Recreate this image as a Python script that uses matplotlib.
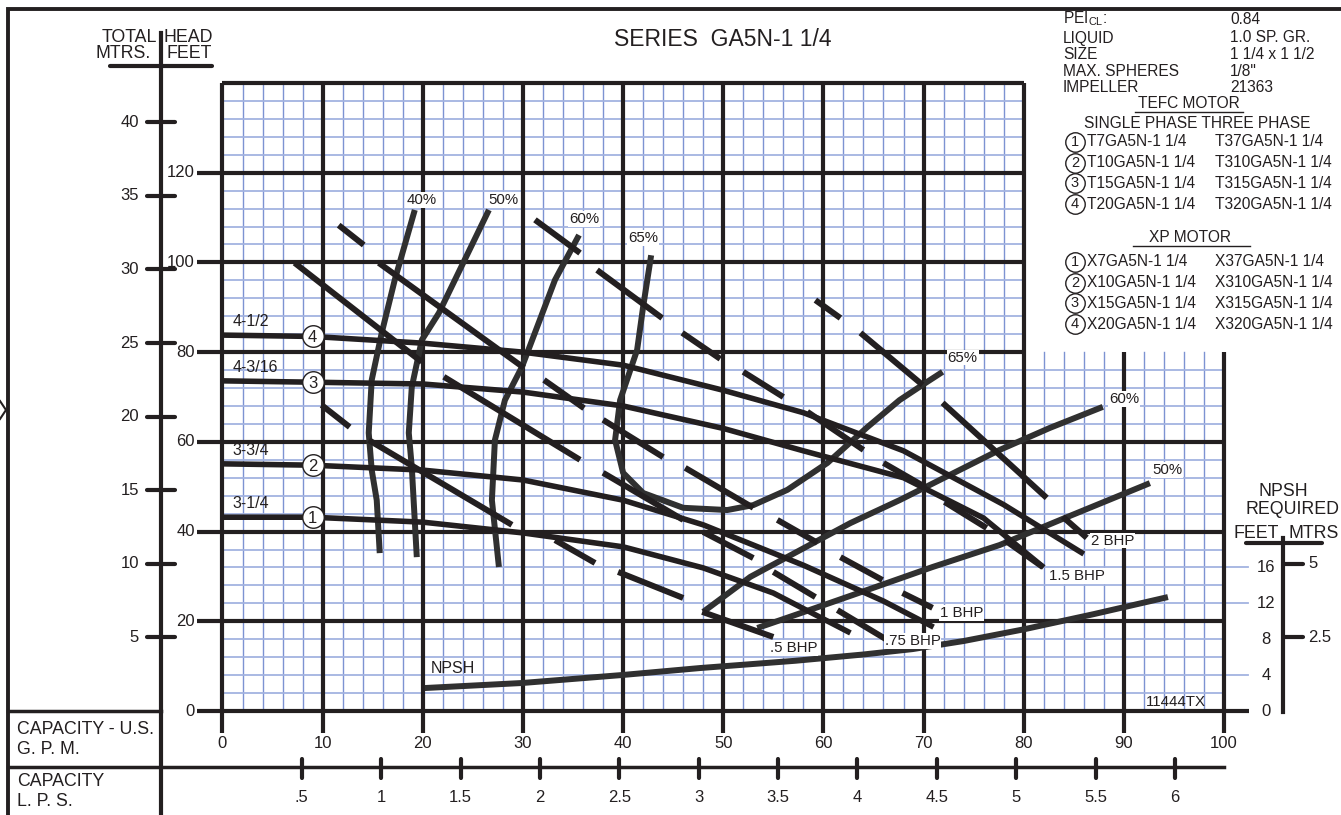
import matplotlib.pyplot as plt
import numpy as np

plt.rcParams['font.family'] = ['Liberation Sans', 'DejaVu Sans']

# ---------------- data (flow in US GPM, head in feet) ----------------
gpm_ticks = [0, 10, 20, 30, 40, 50, 60, 70, 80, 90, 100]
lps_ticks = [0.5, 1, 1.5, 2, 2.5, 3, 3.5, 4, 4.5, 5, 5.5, 6]
lps_labels = ['.5', '1', '1.5', '2', '2.5', '3', '3.5', '4', '4.5', '5', '5.5', '6']
feet_ticks = [0, 20, 40, 60, 80, 100, 120]
mtr_ticks = [5, 10, 15, 20, 25, 30, 35, 40]
npsh_ticks = [0, 4, 8, 12, 16]
npsh_mtr_ticks = [2.5, 5]
npsh_mtr_labels = ['2.5', '5']

# impeller head curves
imp_names = ['3-1/4', '3-3/4', '4-3/16', '4-1/2']
imp1_q = [0, 9, 20, 30, 40, 48, 55, 62.7]
imp1_h = [43.2, 43.2, 42.1, 39.7, 36.6, 31.9, 26.3, 17.4]
imp2_q = [0, 9, 20, 30, 40, 48, 58, 66, 71]
imp2_h = [55.1, 54.8, 53.7, 51.5, 47.0, 41.5, 32.5, 24.5, 18.7]
imp3_q = [0, 9, 20, 30, 40, 50, 58, 68, 76, 82]
imp3_h = [73.6, 73.3, 72.9, 71.1, 68.0, 63.0, 58.0, 52.0, 43.0, 32.0]
imp4_q = [0, 9, 20, 30, 40, 50, 58, 68, 78, 86]
imp4_h = [83.8, 83.5, 82.0, 80.0, 77.1, 71.5, 66.5, 58.0, 46.0, 35.0]

# efficiency curves
eff40_q = [19.2, 17.2, 15.9, 14.9, 14.6, 14.9, 15.4, 15.7]
eff40_h = [111.7, 96.1, 84.3, 73.8, 62.0, 53.7, 47.0, 35.2]
eff50_q = [26.6, 21.6, 19.9, 18.9, 18.6, 18.9, 19.4]
eff50_h = [111.7, 88.7, 82.7, 72.2, 62.0, 54.4, 34.3]
eff60_q = [35.6, 33.2, 29.9, 28.2, 27.2, 26.9, 27.6]
eff60_h = [106.1, 96.1, 76.7, 69.3, 60.4, 47.0, 32.1]
eff65_q = [42.8, 42.0, 41.4, 39.7, 39.2, 40.0, 42.0, 46.0, 50.4, 53.0, 56.4, 60.4, 64.4, 67.6, 69.9, 71.9]
eff65_h = [101.6, 90.1, 80.5, 69.3, 60.4, 53.1, 48.6, 45.3, 44.8, 45.9, 49.3, 55.3, 63.3, 69.3, 72.7, 75.6]
eff60b_q = [48.0, 52.7, 57.7, 62.7, 67.6, 72.6, 77.6, 82.6, 87.9]
eff60b_h = [22.1, 29.9, 35.9, 41.9, 47.0, 52.6, 58.2, 63.1, 67.8]
eff50b_q = [53.4, 57.7, 64.4, 70.9, 77.6, 84.3, 92.6]
eff50b_h = [18.5, 21.8, 27.0, 32.1, 37.0, 43.2, 50.8]

# brake horsepower lines, as the printed dashes (q0, h0, q1, h1)
bhp2_dashes = [(59.2, 91.6, 61.7, 87.6), (63.7, 84.3, 69.9, 72.7),
               (71.9, 68.7, 82.3, 47.5), (83.9, 43.3, 86.3, 38.6)]
bhp15_dashes = [(31.2, 109.5, 35.7, 102.1), (37.4, 98.3, 43.9, 87.6),
                (45.9, 84.3, 49.7, 78.5), (52.0, 75.6, 56.0, 70.0),
                (58.4, 66.7, 64.0, 58.2), (66.0, 55.3, 70.2, 49.9),
                (72.1, 46.6, 76.3, 40.8), (78.1, 38.1, 81.9, 32.1)]
bhp1_dashes = [(11.6, 108.3, 14.1, 103.9), (15.6, 99.9, 30.1, 76.5),
               (32.1, 73.8, 36.1, 67.5), (38.0, 64.9, 44.0, 56.6),
               (46.2, 54.2, 53.0, 45.3), (55.4, 42.6, 59.4, 37.5),
               (61.7, 34.3, 65.9, 29.2), (67.9, 26.3, 70.9, 23.0)]
bhp075_dashes = [(7.2, 99.9, 19.9, 77.8), (22.1, 74.5, 35.7, 56.0),
                 (38.0, 53.1, 46.0, 42.6), (48.0, 39.9, 53.0, 34.1),
                 (55.0, 31.0, 59.2, 25.4), (61.4, 22.5, 66.4, 15.8)]
bhp05_dashes = [(9.9, 68.2, 12.7, 63.3), (14.6, 60.4, 28.9, 41.5),
                (33.2, 38.1, 37.2, 33.0), (39.5, 31.0, 46.0, 25.2),
                (47.9, 22.1, 55.0, 16.5)]

# NPSH required (feet of NPSH, right-hand scale)
npsh_q = [20.2, 29.9, 39.9, 47.7, 57.2, 64.0, 68.9, 74.0, 80.0, 87.0, 94.4]
npsh_ft = [2.56, 3.12, 4.01, 4.79, 5.6, 6.3, 6.9, 7.8, 9.1, 10.8, 12.7]

spec_names = ['LIQUID', 'SIZE', 'MAX. SPHERES', 'IMPELLER']
spec_values = ['1.0 SP. GR.', '1 1/4 x 1 1/2', '1/8"', '21363']
tefc_single = ['T7GA5N-1 1/4', 'T10GA5N-1 1/4', 'T15GA5N-1 1/4', 'T20GA5N-1 1/4']
tefc_three = ['T37GA5N-1 1/4', 'T310GA5N-1 1/4', 'T315GA5N-1 1/4', 'T320GA5N-1 1/4']
xp_single = ['X7GA5N-1 1/4', 'X10GA5N-1 1/4', 'X15GA5N-1 1/4', 'X20GA5N-1 1/4']
xp_three = ['X37GA5N-1 1/4', 'X310GA5N-1 1/4', 'X315GA5N-1 1/4', 'X320GA5N-1 1/4']

FT_PER_M = 3.2808
GPM_PER_LPS = 15.850
NPSH_TO_HEAD = 2.0   # npsh scale is drawn at twice the head scale

K = '#231f20'
EFF = '#303030'
BLUE_V = '#7d93d2'
BLUE_H = '#a3b3e0'
FS_TICK = 12
FS_CAP = 12.8
FS_LEG = 11.2
FS_LAB = 10.8

fig = plt.figure(figsize=(13.41, 8.15), dpi=100)

# overlay in pixel units for the frame and the text blocks
ov = fig.add_axes([0, 0, 1, 1])
ov.set_xlim(0, 1341)
ov.set_ylim(815, 0)
ov.axis('off')

ax = fig.add_axes([222.5 / 1341, 104 / 815, 1001.5 / 1341, 628 / 815])
ax.set_xlim(0, 100)
ax.set_ylim(0, 140)
ax.axis('off')

# ---------------- grid ----------------
for q in np.arange(2, 100, 2):
    if q % 10 == 0:
        continue
    top = 140 if q < 80 else 80
    ax.plot([q, q], [0, top], color=BLUE_V, lw=1.0, zorder=1)
for h in np.arange(4, 140, 4):
    if h % 20 == 0:
        continue
    right = 100 if h < 80 else 80
    if h in (8, 24, 32):
        right = 102.4
    ax.plot([0, right], [h, h], color=BLUE_H, lw=1.3, zorder=1, clip_on=False)

for q in gpm_ticks:
    top = 140 if q <= 80 else 80
    ax.plot([q, q], [-4.9, top], color=K, lw=3.0, zorder=2, clip_on=False,
            solid_capstyle='butt')
    ax.text(q, -7.2, str(q), ha='center', va='center', fontsize=FS_TICK, color=K)
for h in feet_ticks + [140]:
    left = -2.55 if h < 140 else 0
    right = 100 if h < 80 else 80
    if h == 0:
        right = 102.5
    ax.plot([left, right], [h, h], color=K, lw=3.0, zorder=2, clip_on=False,
            solid_capstyle='butt')
for h in feet_ticks:
    ax.text(-2.75, h, str(h), ha='right', va='center', fontsize=FS_TICK, color=K)

# meters scale on the left
for m in mtr_ticks:
    ax.plot([-7.5, -4.75], [m * FT_PER_M] * 2, color=K, lw=3.0, clip_on=False,
            solid_capstyle='round')
    ax.text(-8.35, m * FT_PER_M, str(m), ha='right', va='center', fontsize=FS_TICK, color=K)

# L.P.S. scale
for v, lab in zip(lps_ticks, lps_labels):
    ax.plot([v * GPM_PER_LPS] * 2, [-10.6, -14.9], color=K, lw=3.0, clip_on=False,
            solid_capstyle='round')
    ax.text(v * GPM_PER_LPS, -19.3, lab, ha='center', va='center', fontsize=FS_TICK, color=K)

# NPSH scale on the right
ax.plot([105.9, 105.9], [-0.2, 38.5], color=K, lw=3.0, clip_on=False)
for v in npsh_ticks:
    ax.text(104.2, v * NPSH_TO_HEAD, str(v), ha='center', va='center', fontsize=FS_TICK, color=K)
for v, lab in zip(npsh_mtr_ticks, npsh_mtr_labels):
    y = v * FT_PER_M * NPSH_TO_HEAD
    ax.plot([105.9, 107.9], [y, y], color=K, lw=3.0, clip_on=False, solid_capstyle='round')
    ax.text(108.4, y, lab, ha='left', va='center', fontsize=FS_TICK, color=K)

# ---------------- curves ----------------
eff_curves = [(eff40_q, eff40_h), (eff50_q, eff50_h), (eff60_q, eff60_h),
              (eff65_q, eff65_h), (eff60b_q, eff60b_h), (eff50b_q, eff50b_h)]
for q, h in eff_curves:
    ax.plot(q, h, color=EFF, lw=4.3, zorder=4, solid_capstyle='butt',
            solid_joinstyle='round')

for dashes in (bhp2_dashes, bhp15_dashes, bhp1_dashes, bhp075_dashes, bhp05_dashes):
    for q0, h0, q1, h1 in dashes:
        ax.plot([q0, q1], [h0, h1], color=K, lw=4.3, zorder=4, solid_capstyle='butt')

imp_curves = [(imp1_q, imp1_h), (imp2_q, imp2_h), (imp3_q, imp3_h), (imp4_q, imp4_h)]
for i, (q, h) in enumerate(imp_curves):
    ax.plot(q, h, color=K, lw=4.0, zorder=5, solid_capstyle='butt',
            solid_joinstyle='round')
    hc = np.interp(9, q, h)
    ax.plot([9], [hc], marker='o', ms=15.5, mfc='white', mec=K, mew=1.0, zorder=6)
    ax.text(9, hc - 0.2, str(i + 1), ha='center', va='center', fontsize=12, color=K, zorder=7)
    ax.text(1.0, h[0] + 1.3, imp_names[i], ha='left', va='bottom', fontsize=11.5, color=K)

ax.plot(npsh_q, np.array(npsh_ft) * NPSH_TO_HEAD, color=EFF, lw=4.3, zorder=4,
        solid_capstyle='butt', solid_joinstyle='round')
ax.text(20.8, 7.8, 'NPSH', ha='left', va='bottom', fontsize=11.5, color=K)

box = dict(facecolor='white', edgecolor='none', pad=0.6)
eff_labels = [('40%', 19.9, 113.9), ('50%', 28.0, 113.9), ('60%', 36.1, 109.6),
              ('65%', 42.0, 105.4), ('65%', 73.9, 78.8), ('60%', 90.0, 69.5),
              ('50%', 94.3, 53.8)]
for t, q, h in eff_labels:
    ax.text(q, h, t, ha='center', va='center', fontsize=FS_LAB, color=K, bbox=box, zorder=6)
bhp_labels = [('2 BHP', 88.9, 38.0), ('1.5 BHP', 85.3, 30.1), ('1 BHP', 73.8, 21.9),
              ('.75 BHP', 68.9, 15.6), ('.5 BHP', 57.0, 14.0)]
for t, q, h in bhp_labels:
    ax.text(q, h, t, ha='center', va='center', fontsize=FS_LAB, color=K, bbox=box, zorder=6)
ax.text(95.2, 2.0, '11444TX', ha='center', va='center', fontsize=FS_LAB, color=K)

# ---------------- frame and captions ----------------
ov.plot([8, 8, 1341], [815, 9, 9], color=K, lw=2.8, solid_joinstyle='miter')
ov.plot([161, 161], [33, 815], color=K, lw=3.0)
ov.plot([110, 212], [66, 66], color=K, lw=3.0, solid_capstyle='round')
ov.plot([8, 161], [711, 711], color=K, lw=2.5)
ov.plot([8, 1224], [767, 767], color=K, lw=2.5)
ov.plot([0, 6, 0], [401, 410, 419], color=K, lw=1.5)
ov.text(157, 37, 'TOTAL', ha='right', va='center', fontsize=FS_CAP, color=K)
ov.text(164, 37, 'HEAD', ha='left', va='center', fontsize=FS_CAP, color=K)
ov.text(151, 54, 'MTRS.', ha='right', va='center', fontsize=FS_CAP, color=K)
ov.text(167, 54, 'FEET', ha='left', va='center', fontsize=FS_CAP, color=K)
ov.text(17, 730, 'CAPACITY - U.S.', ha='left', va='center', fontsize=FS_CAP, color=K)
ov.text(17, 750, 'G. P. M.', ha='left', va='center', fontsize=FS_CAP, color=K)
ov.text(17, 781, 'CAPACITY', ha='left', va='center', fontsize=FS_CAP, color=K)
ov.text(17, 802, 'L. P. S.', ha='left', va='center', fontsize=FS_CAP, color=K)
ov.text(723, 40, 'SERIES  GA5N-1 1/4', ha='center', va='center', fontsize=16.5, color=K)

ov.text(1283, 492, 'NPSH', ha='center', va='center', fontsize=FS_CAP, color=K)
ov.text(1293, 510, 'REQUIRED', ha='center', va='center', fontsize=FS_CAP, color=K)
ov.text(1256, 533, 'FEET', ha='center', va='center', fontsize=FS_CAP, color=K)
ov.text(1314, 533, 'MTRS', ha='center', va='center', fontsize=FS_CAP, color=K)
ov.plot([1246, 1322], [543, 543], color=K, lw=3.0, solid_capstyle='round')

# specification block
ov.text(1063, 19, r'PEI$_{\mathregular{CL}}$:', ha='left', va='center', fontsize=FS_LEG, color=K)
ov.text(1230, 19, '0.84', ha='left', va='center', fontsize=FS_LEG, color=K)
for i, (n, v) in enumerate(zip(spec_names, spec_values)):
    y = 38 + i * 16.5
    ov.text(1063, y, n, ha='left', va='center', fontsize=FS_LEG, color=K)
    ov.text(1230, y, v, ha='left', va='center', fontsize=FS_LEG, color=K)
ov.text(1189, 103, 'TEFC MOTOR', ha='center', va='center', fontsize=FS_LEG, color=K)
ov.plot([1135, 1243], [112, 112], color=K, lw=1.0)
ov.text(1197, 123, 'SINGLE PHASE THREE PHASE', ha='center', va='center', fontsize=FS_LEG, color=K)
ov.text(1190, 237, 'XP MOTOR', ha='center', va='center', fontsize=FS_LEG, color=K)
ov.plot([1133, 1250], [246, 246], color=K, lw=1.0)
for block, y0 in (((tefc_single, tefc_three), 142), ((xp_single, xp_three), 262)):
    for i in range(4):
        y = y0 + i * 20.7
        ov.plot([1075], [y], marker='o', ms=14, mfc='white', mec=K, mew=1.0)
        ov.text(1075, y, str(i + 1), ha='center', va='center', fontsize=10.5, color=K)
        ov.text(1087, y, block[0][i], ha='left', va='center', fontsize=FS_LEG, color=K)
        ov.text(1215, y, block[1][i], ha='left', va='center', fontsize=FS_LEG, color=K)

fig.savefig('out.png', dpi=100)
